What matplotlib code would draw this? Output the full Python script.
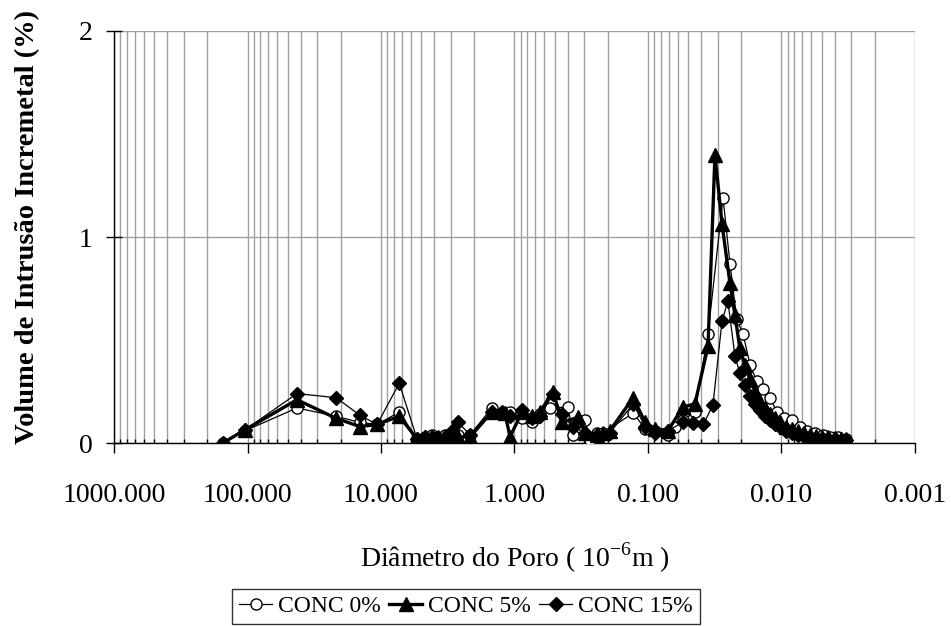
import matplotlib
matplotlib.use("Agg")
import matplotlib.pyplot as plt
from matplotlib.ticker import LogLocator, FixedLocator, FuncFormatter, NullFormatter

plt.rcParams['font.family'] = ['Liberation Serif', 'DejaVu Serif']
plt.rcParams['mathtext.fontset'] = 'custom'
plt.rcParams['mathtext.rm'] = 'Liberation Serif'

# pore diameter (10^-6 m) and incremental intrusion volume (%)
d_0 = [153, 104, 42.6, 21.7, 14.4, 10.7, 7.3, 5.37, 4.68, 4.15, 3.74, 3.32, 2.94, 2.65, 2.15,
       1.48, 1.24, 1.08, 0.88, 0.74, 0.644, 0.542, 0.397, 0.365, 0.296, 0.272, 0.241, 0.217,
       0.129, 0.105, 0.0887, 0.0708, 0.0628, 0.0547, 0.0445, 0.0355, 0.0274, 0.0243, 0.0216,
       0.0194, 0.0172, 0.0153, 0.0138, 0.0122, 0.0108, 0.0095, 0.0083, 0.0073, 0.0064, 0.0056,
       0.0049, 0.0043, 0.0038, 0.0033]
v_0 = [0, 0.06, 0.17, 0.13, 0.10, 0.09, 0.15, 0.02, 0.03, 0.04, 0.03, 0.04, 0.05, 0.04, 0.04,
       0.17, 0.14, 0.15, 0.12, 0.10, 0.14, 0.17, 0.175, 0.04, 0.11, 0.015, 0.05, 0.05,
       0.145, 0.07, 0.06, 0.04, 0.08, 0.11, 0.15, 0.53, 1.19, 0.87, 0.60,
       0.53, 0.38, 0.30, 0.26, 0.22, 0.15, 0.12, 0.11, 0.08, 0.06, 0.05,
       0.04, 0.03, 0.03, 0.02]

d_5 = [153, 104, 42.6, 21.7, 14.4, 10.7, 7.3, 5.37, 4.68, 4.15, 3.74, 3.32, 2.94, 2.65, 2.15,
       1.48, 1.18, 1.08, 0.88, 0.74, 0.644, 0.515, 0.441, 0.334, 0.296, 0.241, 0.217, 0.193,
       0.129, 0.105, 0.0887, 0.0708, 0.0547, 0.0445, 0.0355, 0.0315, 0.0279, 0.0243, 0.0223,
       0.0205, 0.0188, 0.0172, 0.0158, 0.0145, 0.0133, 0.0122, 0.0112, 0.0103, 0.0093, 0.0083,
       0.0075, 0.0068, 0.0061, 0.0055, 0.0050, 0.0045, 0.0040, 0.0036, 0.0033]
v_5 = [0, 0.065, 0.21, 0.12, 0.08, 0.09, 0.13, 0.02, 0.03, 0.02, 0.03, 0.03, 0.05, 0.03, 0.03,
       0.15, 0.145, 0.03, 0.15, 0.13, 0.15, 0.25, 0.10, 0.125, 0.05, 0.04, 0.05, 0.06,
       0.22, 0.10, 0.07, 0.06, 0.175, 0.19, 0.47, 1.40, 1.065, 0.775, 0.62,
       0.46, 0.38, 0.31, 0.25, 0.20, 0.17, 0.14, 0.12, 0.10, 0.08, 0.07,
       0.06, 0.05, 0.04, 0.035, 0.03, 0.03, 0.025, 0.02, 0.02]

d_15 = [153, 104, 42.6, 21.7, 14.4, 10.7, 7.3, 5.37, 4.68, 4.15, 3.74, 3.32, 2.94, 2.65, 2.15,
        1.48, 1.24, 1.08, 0.88, 0.74, 0.644, 0.515, 0.441, 0.365, 0.296, 0.241, 0.193,
        0.129, 0.105, 0.0887, 0.0708, 0.0547, 0.046, 0.0385, 0.0326, 0.0279, 0.0252, 0.0223,
        0.0205, 0.0188, 0.0172, 0.0158, 0.0145, 0.0133, 0.0122, 0.0112, 0.0103, 0.0093, 0.0083,
        0.0075, 0.0068, 0.0061, 0.0055, 0.0050, 0.0045, 0.0040, 0.0036, 0.0033]
v_15 = [0, 0.065, 0.24, 0.22, 0.135, 0.09, 0.29, 0.02, 0.03, 0.03, 0.02, 0.03, 0.06, 0.10, 0.04,
        0.15, 0.15, 0.13, 0.16, 0.12, 0.13, 0.24, 0.14, 0.08, 0.05, 0.04, 0.05,
        0.19, 0.08, 0.05, 0.06, 0.10, 0.095, 0.09, 0.185, 0.59, 0.69, 0.42,
        0.34, 0.28, 0.23, 0.19, 0.16, 0.13, 0.11, 0.09, 0.08, 0.06, 0.05,
        0.04, 0.035, 0.03, 0.025, 0.02, 0.02, 0.02, 0.015, 0.015]

labels = ['CONC 0%', 'CONC 5%', 'CONC 15%']
x_ticks = [1000, 100, 10, 1, 0.1, 0.01, 0.001]

fig = plt.figure(figsize=(9.51, 6.26), dpi=100)
ax = fig.add_axes([0.1199, 0.2923, 0.8422, 0.6582])

ax.plot(d_0, v_0, color='black', lw=0.9, marker='o', ms=8, mfc='white', mec='black',
        mew=1, label=labels[0], zorder=3)
ax.plot(d_5, v_5, color='black', lw=2.4, marker='^', ms=10, mfc='black', mec='black',
        label=labels[1], zorder=4)
ax.plot(d_15, v_15, color='black', lw=0.9, marker='D', ms=7, mfc='black', mec='black',
        label=labels[2], zorder=5)

ax.set_xscale('log')
ax.set_xlim(1000, 0.001)
ax.set_ylim(0, 2)
ax.xaxis.set_major_locator(FixedLocator(x_ticks))
ax.xaxis.set_minor_locator(LogLocator(base=10, subs=range(2, 10), numticks=20))
ax.xaxis.set_major_formatter(FuncFormatter(lambda v, p: f'{v:.3f}'))
ax.xaxis.set_minor_formatter(NullFormatter())
ax.set_yticks([0, 1, 2])

ax.grid(True, which='both', axis='x', color='#a0a0a0', lw=1)
ax.grid(True, which='major', axis='y', color='#a0a0a0', lw=1)
ax.set_axisbelow(True)

for s in ['top', 'right']:
    ax.spines[s].set_visible(False)
ax.spines['left'].set_linewidth(1)
ax.spines['bottom'].set_linewidth(1)

ax.tick_params(axis='x', which='major', direction='out', length=7, width=1, pad=22, labelsize=20)
ax.tick_params(axis='x', which='minor', direction='in', length=3, width=1)
ax.tick_params(axis='y', which='major', direction='inout', length=11, width=1, pad=10, labelsize=20)

fig.text(0.029, 0.638, 'Volume de Intrusão Incremetal (%)', rotation=90, ha='center',
         va='center', fontsize=20.5, fontweight='bold')
fig.text(0.5415, 0.1086, r'Diâmetro do Poro ( 10$^{\mathrm{-6}}$m )', ha='center',
         va='center', fontsize=20)

leg = fig.legend(loc='center', bbox_to_anchor=(0.49, 0.031), ncol=3, fontsize=17,
                 frameon=True, fancybox=False, edgecolor='black', handlelength=1.4,
                 handletextpad=0.25, columnspacing=0.35, borderpad=0.3)
leg.get_frame().set_linewidth(1)

fig.savefig('out.png', dpi=100)
